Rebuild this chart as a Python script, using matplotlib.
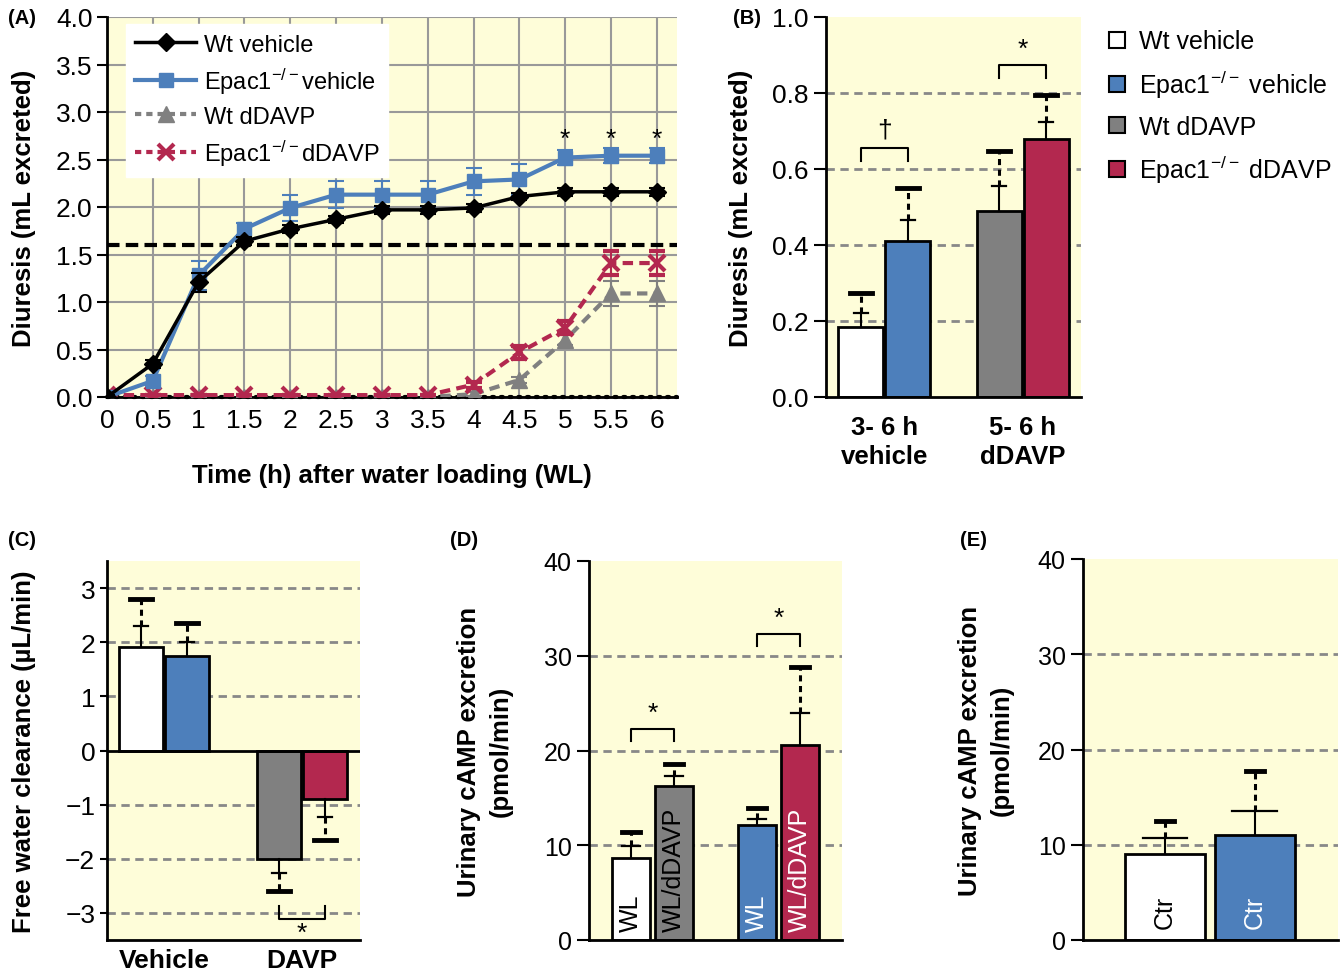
import matplotlib
matplotlib.use("Agg")
from matplotlib import pyplot as plt
from matplotlib.lines import Line2D
import numpy as np

plt.rcParams['font.family'] = ['Liberation Sans', 'DejaVu Sans']
plt.rcParams['mathtext.fontset'] = 'custom'
plt.rcParams['mathtext.rm'] = 'Liberation Sans'
plt.rcParams['mathtext.it'] = 'Liberation Sans:italic'
plt.rcParams['mathtext.bf'] = 'Liberation Sans:bold'

# ---- data ----
t_hours = [0, 0.5, 1, 1.5, 2, 2.5, 3, 3.5, 4, 4.5, 5, 5.5, 6]
wt_veh = [0, 0.35, 1.21, 1.64, 1.77, 1.87, 1.97, 1.97, 1.99, 2.11, 2.16, 2.16, 2.16]
wt_veh_err = [0.02, 0.04, 0.10, 0.04, 0.04, 0.04, 0.04, 0.04, 0.04, 0.04, 0.04, 0.04, 0.04]
ep_veh = [0, 0.17, 1.28, 1.77, 1.99, 2.13, 2.13, 2.13, 2.27, 2.29, 2.52, 2.54, 2.54]
ep_veh_err = [0.02, 0.05, 0.15, 0.06, 0.14, 0.14, 0.14, 0.14, 0.14, 0.16, 0.08, 0.08, 0.08]
wt_ddavp = [0, 0, 0, 0, 0, 0, 0, 0, 0.03, 0.18, 0.60, 1.09, 1.09]
wt_ddavp_err = [0, 0, 0, 0, 0, 0, 0, 0, 0.02, 0.03, 0.05, 0.13, 0.13]
ep_ddavp = [0.02, 0.02, 0.02, 0.02, 0.02, 0.02, 0.02, 0.02, 0.13, 0.47, 0.73, 1.41, 1.41]
ep_ddavp_err = [0, 0, 0, 0, 0, 0, 0, 0, 0.03, 0.07, 0.07, 0.13, 0.13]
threshold = 1.6
star_times = [5, 5.5, 6]

b_groups = ["3- 6 h\nvehicle", "5- 6 h\ndDAVP"]
b_vals = [0.185, 0.41, 0.49, 0.678]
b_inner = [0.22, 0.465, 0.555, 0.725]
b_outer = [0.275, 0.55, 0.648, 0.795]

c_groups = ["Vehicle", "DAVP"]
c_vals = [1.92, 1.75, -2.0, -0.9]
c_inner = [2.3, 2.0, -2.27, -1.22]
c_outer = [2.8, 2.35, -2.6, -1.65]

d_vals = [8.7, 16.3, 12.1, 20.6]
d_inner = [9.9, 17.3, 12.8, 24.0]
d_outer = [11.4, 18.6, 13.9, 28.8]
d_text = ["WL", "WL/dDAVP", "WL", "WL/dDAVP"]

e_vals = [9.0, 11.0]
e_inner = [10.7, 13.5]
e_outer = [12.5, 17.7]
e_text = ["Ctr", "Ctr"]

legend_labels = ["Wt vehicle", "Epac1$^{-/-}$ vehicle", "Wt dDAVP", "Epac1$^{-/-}$ dDAVP"]

# ---- style ----
YEL = "#fefdd9"
BLUE = "#4d7fbb"
GRAY = "#808080"
RED = "#b3284f"
bar_colors = ["white", BLUE, GRAY, RED]
W, H = 1341, 978
TICK_FS = 19
LAB_FS = 18.5


def add_ax(fig, left, right, top, bottom):
    return fig.add_axes([left / W, 1 - bottom / H, (right - left) / W, (bottom - top) / H])


def style_bar_ax(ax, grid_vals, tick_fs=TICK_FS):
    ax.set_facecolor(YEL)
    for s in ["top", "right"]:
        ax.spines[s].set_visible(False)
    ax.spines["left"].set_linewidth(2)
    ax.spines["bottom"].set_linewidth(2)
    for g in grid_vals:
        ax.axhline(g, color="#888888", lw=2, ls=(0, (3, 2)), zorder=0.5)
    ax.tick_params(axis="y", labelsize=tick_fs, width=1.5, length=9)
    ax.tick_params(axis="x", length=0, labelsize=LAB_FS, pad=8)


def two_level_err(ax, x, val, inner, outer, w_in, w_out):
    ax.plot([x, x], [val, inner], color="k", lw=1.5, zorder=4)
    ax.plot([x - w_in, x + w_in], [inner, inner], color="k", lw=1.6, zorder=4)
    ax.plot([x, x], [inner, outer], color="k", lw=2.2, ls=(0, (2, 1.5)), zorder=4)
    ax.plot([x - w_out, x + w_out], [outer, outer], color="k", lw=3.5, zorder=4)


def bracket(ax, x1, x2, y0, y1, label, ty, size=19):
    ax.plot([x1, x1, x2, x2], [y0, y1, y1, y0], color="k", lw=1.5, zorder=4)
    ax.text((x1 + x2) / 2, ty, label, ha="center", va="center", fontsize=size)


fig = plt.figure(figsize=(W / 100, H / 100), dpi=100)

# ---------- (A) ----------
axA = add_ax(fig, 107, 677, 18, 398)
axA.set_facecolor(YEL)
axA.set_xlim(0, 6.22)
axA.set_ylim(0, 4.0)
axA.set_xticks(t_hours)
axA.set_xticklabels(["0", "0.5", "1", "1.5", "2", "2.5", "3", "3.5", "4", "4.5", "5", "5.5", "6"])
axA.set_yticks(np.arange(0, 4.01, 0.5))
axA.set_yticklabels(["%.1f" % v for v in np.arange(0, 4.01, 0.5)])
axA.grid(True, color="#999999", lw=1.5, zorder=0)
axA.set_axisbelow(True)
for s in ["top", "right"]:
    axA.spines[s].set_visible(False)
axA.spines["left"].set_linewidth(2)
axA.spines["bottom"].set_linewidth(2)
axA.tick_params(axis="both", labelsize=TICK_FS, width=1.5, length=7)
axA.tick_params(axis="x", length=0, pad=8)
axA.axhline(threshold, color="k", lw=3, ls=(0, (3, 1.5)), zorder=2)
axA.plot([0, 6.22], [0, 0], color="k", lw=3, ls=(0, (0.5, 1.6)), dash_capstyle="round", zorder=2, clip_on=False)

axA.errorbar(t_hours, wt_ddavp, yerr=wt_ddavp_err, color=GRAY, lw=3, ls=(0, (2.5, 1.5)),
             marker="^", ms=11, capsize=6, elinewidth=1.5, capthick=1.5, zorder=3)
axA.errorbar(t_hours, ep_ddavp, yerr=ep_ddavp_err, color=RED, lw=3, ls=(0, (2.5, 1.5)),
             marker="x", ms=11, mew=3, capsize=6, elinewidth=1.5, capthick=1.5, zorder=3.2)
axA.errorbar(t_hours, ep_veh, yerr=ep_veh_err, color=BLUE, lw=3, marker="s", ms=10,
             capsize=6, elinewidth=1.5, capthick=1.5, zorder=3.4)
axA.errorbar(t_hours, wt_veh, yerr=wt_veh_err, color="k", lw=2.5, marker="D", ms=9,
             capsize=6, elinewidth=1.5, capthick=1.5, zorder=3.6)
for st in star_times:
    axA.text(st, 2.72, "*", ha="center", va="center", fontsize=19)

handlesA = [
    Line2D([], [], color="k", lw=2.5, marker="D", ms=9),
    Line2D([], [], color=BLUE, lw=3, marker="s", ms=10),
    Line2D([], [], color=GRAY, lw=3, ls=(0, (1.5, 1.2)), marker="^", ms=11),
    Line2D([], [], color=RED, lw=3, ls=(0, (1.5, 1.2)), marker="x", ms=11, mew=3),
]
legA = axA.legend(handlesA, ["Wt vehicle", "Epac1$^{-/-}$vehicle", "Wt dDAVP", "Epac1$^{-/-}$dDAVP"],
                  loc="upper left", bbox_to_anchor=(0.012, 1.012), fontsize=17, frameon=True,
                  fancybox=False, framealpha=1, edgecolor="white", handlelength=2.6,
                  labelspacing=0.42, borderpad=0.4, handletextpad=0.3)
legA.set_zorder(5)
axA.set_ylabel("Diuresis (mL excreted)", fontsize=LAB_FS, fontweight="bold", labelpad=14)
axA.set_xlabel("Time (h) after water loading (WL)", fontsize=LAB_FS, fontweight="bold", labelpad=22)

# ---------- (B) ----------
axB = add_ax(fig, 826, 1081, 18, 398)
style_bar_ax(axB, [0.2, 0.4, 0.6, 0.8])
axB.set_xlim(-0.42, 1.42)
axB.set_ylim(0, 1.0)
axB.set_yticks(np.arange(0, 1.01, 0.2))
axB.set_yticklabels(["%.1f" % v for v in np.arange(0, 1.01, 0.2)])
bw = 0.325
xb = [0 - 0.17, 0 + 0.17, 1 - 0.17, 1 + 0.17]
axB.bar(xb, b_vals, width=bw, color=bar_colors, edgecolor="k", lw=2, zorder=2)
for i in range(4):
    two_level_err(axB, xb[i], b_vals[i], b_inner[i], b_outer[i], 0.05, 0.08)
axB.set_xticks([0, 1])
axB.set_xticklabels(b_groups, fontweight="bold", fontsize=LAB_FS, linespacing=1.25)
axB.tick_params(axis="x", pad=13)
bracket(axB, xb[0], xb[1], 0.62, 0.655, "\u2020", 0.705)
bracket(axB, xb[2], xb[3], 0.84, 0.875, "*", 0.915)
axB.set_ylabel("Diuresis (mL excreted)", fontsize=LAB_FS, fontweight="bold", labelpad=14)

handlesB = [Line2D([], [], ls="none", marker="s", ms=11, mfc=c, mec="k", mew=1.5) for c in bar_colors]
fig.legend(handlesB, legend_labels, loc="upper left", bbox_to_anchor=(1084 / W, 1 - 8 / H),
           fontsize=18, frameon=False, handlelength=0.8, handletextpad=0.5, labelspacing=0.58)

# ---------- (C) ----------
axC = add_ax(fig, 107, 360, 562, 941)
style_bar_ax(axC, [-3, -2, -1, 1, 2, 3])
axC.set_xlim(-0.413, 1.42)
axC.set_ylim(-3.5, 3.5)
axC.set_yticks([-3, -2, -1, 0, 1, 2, 3])
axC.tick_params(axis="y", length=5)
axC.axhline(0, color="k", lw=2, zorder=3)
bw = 0.32
xc = [0 - 0.165, 0 + 0.165, 1 - 0.165, 1 + 0.165]
axC.bar(xc, c_vals, width=bw, color=bar_colors, edgecolor="k", lw=2, zorder=2)
for i in range(4):
    two_level_err(axC, xc[i], c_vals[i], c_inner[i], c_outer[i], 0.05, 0.08)
axC.set_xticks([0, 1])
axC.set_xticklabels(c_groups, fontweight="bold", fontsize=19)
axC.tick_params(axis="x", pad=6)
bracket(axC, xc[2], xc[3], -2.88, -3.12, "*", -3.36)
axC.set_ylabel("Free water clearance (\u00b5L/min)", fontsize=LAB_FS, fontweight="bold", labelpad=21)

# ---------- (D) ----------
axD = add_ax(fig, 589, 842, 562, 941)
style_bar_ax(axD, [10, 20, 30], tick_fs=18)
axD.set_xlim(-0.504, 1.504)
axD.set_ylim(0, 40)
axD.set_yticks([0, 10, 20, 30, 40])
bw = 0.30
xd = [0 - 0.17, 0 + 0.17, 1 - 0.17, 1 + 0.17]
d_colors = ["white", GRAY, BLUE, RED]
d_tcol = ["black", "black", "white", "white"]
axD.bar(xd, d_vals, width=bw, color=d_colors, edgecolor="k", lw=2, zorder=2)
for i in range(4):
    two_level_err(axD, xd[i], d_vals[i], d_inner[i], d_outer[i], 0.07, 0.07)
    axD.text(xd[i], 1.0, d_text[i], rotation=90, ha="center", va="bottom",
             fontsize=18, color=d_tcol[i], zorder=5)
axD.set_xticks([])
bracket(axD, xd[0], xd[1], 21.0, 22.3, "*", 24.0)
bracket(axD, xd[2], xd[3], 31.0, 32.3, "*", 34.0)
axD.set_ylabel("Urinary cAMP excretion\n(pmol/min)", fontsize=LAB_FS, fontweight="bold",
               labelpad=22, linespacing=1.4)

# ---------- (E) ----------
axE = add_ax(fig, 1083, 1338, 560, 941)
style_bar_ax(axE, [10, 20, 30], tick_fs=18)
axE.set_xlim(-0.916, 1.93)
axE.set_ylim(0, 40)
axE.set_yticks([0, 10, 20, 30, 40])
xe = [0, 1]
axE.bar(xe, e_vals, width=0.89, color=["white", BLUE], edgecolor="k", lw=2, zorder=2)
for i in range(2):
    two_level_err(axE, xe[i], e_vals[i], e_inner[i], e_outer[i], 0.25, 0.1)
    axE.text(xe[i], 1.3, e_text[i], rotation=90, ha="center", va="bottom",
             fontsize=18, color=["black", "white"][i], zorder=5)
axE.set_xticks([])
axE.set_ylabel("Urinary cAMP excretion\n(pmol/min)", fontsize=LAB_FS, fontweight="bold",
               labelpad=17, linespacing=1.4)

# panel labels
for lab, x, y in [("(A)", 8, 18), ("(B)", 733, 18), ("(C)", 8, 540), ("(D)", 450, 540), ("(E)", 960, 540)]:
    fig.text(x / W, 1 - y / H, lab, fontsize=14.5, fontweight="bold", va="center", ha="left")

fig.savefig("out.png", dpi=100, facecolor="white")
